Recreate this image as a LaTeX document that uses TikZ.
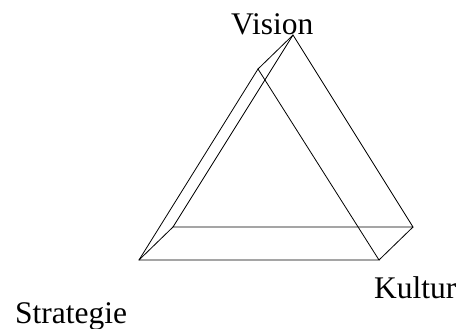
\documentclass[tikz,border=0pt]{standalone}
\usepackage{fontspec}
\setmainfont{Liberation Serif}
\begin{document}
\begin{tikzpicture}[x=1pt,y=-1pt,
  edge/.style={line width=0.8pt,line join=miter},
  lbl/.style={inner sep=0pt,anchor=base west,font=\fontsize{31.5}{37}\selectfont}]
\useasboundingbox (0,0) rectangle (461,329);
% back triangle
\coordinate (bt) at (293,35);
\coordinate (bl) at (173,227);
\coordinate (br) at (413,227);
% front triangle
\coordinate (ft) at (258,69);
\coordinate (fl) at (139,260);
\coordinate (fr) at (379,260);
\draw[edge] (bt) -- (bl) -- (br) -- cycle;
\draw[edge] (ft) -- (fl) -- (fr) -- cycle;
\draw[edge] (bt) -- (ft);
\draw[edge] (bl) -- (fl);
\draw[edge] (br) -- (fr);
\node[lbl] (vision) at (231,35) {Vision};
\node[lbl] (kultur) at (374,298) {Kultur};
\node[lbl] (strategie) at (15,323) {Strategie};
\end{tikzpicture}
\end{document}
